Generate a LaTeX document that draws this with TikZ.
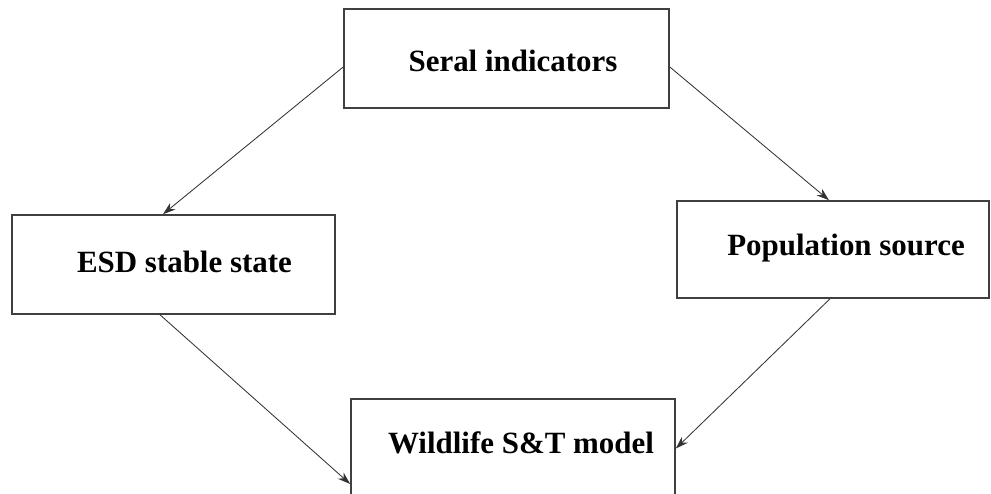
\documentclass[tikz,border=0pt]{standalone}
\usepackage{fontspec}
\setmainfont{Liberation Serif}
\usetikzlibrary{arrows.meta}

\begin{document}
\begin{tikzpicture}[x=0.025cm,y=-0.025cm,
    box/.style={draw=black!75, line width=1.1pt, inner sep=0pt},
    lbl/.style={font=\fontsize{22}{26}\selectfont\bfseries, inner sep=0pt},
    link/.style={-{Stealth[length=9pt,width=6pt]}, draw=black!80, line width=0.6pt}]
\useasboundingbox (0,0) rectangle (991,493);

% boxes
\node(seral)[box, minimum width=8.125cm, minimum height=2.475cm] at (506.5,58.5) {};
\node(esd)[box, minimum width=8.075cm, minimum height=2.475cm] at (173.5,264.5) {};
\node(pop)[box, minimum width=7.8cm, minimum height=2.425cm] at (833,249.5) {};
\node(wild)[box, minimum width=8.1cm, minimum height=2.475cm] at (513,448.5) {};

% texts
\node(seral-t)[lbl] at (513,61) {Seral indicators};
\node(esd-t)[lbl] at (184.5,262) {ESD stable state};
\node(pop-t)[lbl] at (846,248) {Population source};
\node(wild-t)[lbl] at (521,443) {Wildlife S\&T model};

% arrows
\draw[link] ([shift={(0,8.5)}]seral.west) -- ([shift={(-10.5,0)}]esd.north);
\draw[link] ([shift={(0,8.5)}]seral.east) -- ([shift={(-4,0)}]pop.north);
\draw[link] ([shift={(-13.5,0)}]esd.south) -- ([shift={(0,35.5)}]wild.west);
\draw[link] ([shift={(-3,0)}]pop.south) -- (wild.east);

\end{tikzpicture}
\end{document}
